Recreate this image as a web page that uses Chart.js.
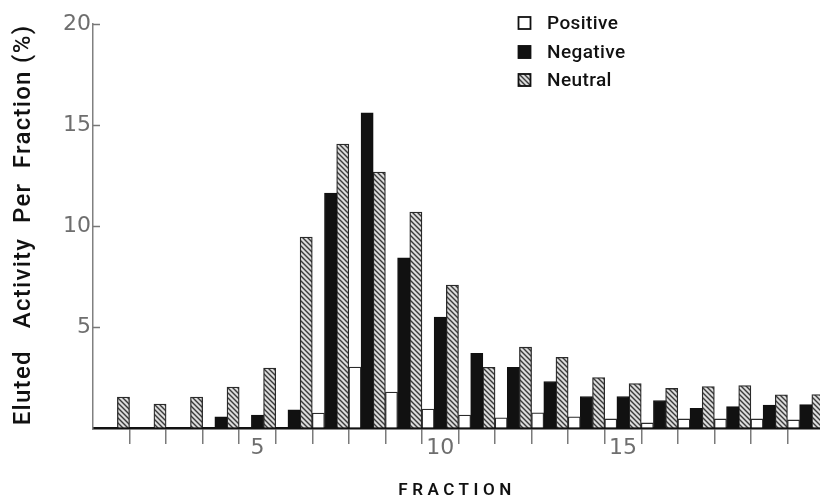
<!DOCTYPE html>
<html>
<head>
<meta charset="utf-8">
<script src="https://cdn.jsdelivr.net/npm/chart.js@4.4.1/dist/chart.umd.min.js"></script>
<style>
  html, body { margin: 0; padding: 0; background: #ffffff; overflow: hidden; }
  #wrap { width: 824px; height: 500px; }
  canvas { display: block; }
</style>
</head>
<body>
<div id="wrap"><canvas id="c" width="824" height="500"></canvas></div>
<script>
// ---- Data ----
const fractions = [1, 2, 3, 4, 5, 6, 7, 8, 9, 10, 11, 12, 13, 14, 15, 16, 17, 18, 19, 20];
const positiveValues = [0, 0, 0, 0, 0, 0, 0.74, 3.02, 1.78, 0.94, 0.64, 0.5, 0.75, 0.55, 0.45, 0.25, 0.45, 0.45, 0.45, 0.4];
const negativeValues = [0, 0, 0, 0.55, 0.64, 0.9, 11.63, 15.6, 8.42, 5.49, 3.7, 3.0, 2.3, 1.56, 1.56, 1.36, 0.97, 1.06, 1.14, 1.16];
const neutralValues  = [1.53, 1.19, 1.53, 2.03, 2.97, 9.45, 14.06, 12.67, 10.69, 7.08, 3.0, 4.0, 3.5, 2.5, 2.2, 1.96, 2.05, 2.1, 1.64, 1.66];
const seriesNames = ['Positive', 'Negative', 'Neutral'];
const labelledFractions = [5, 10, 15];
const yTickValues = [5, 10, 15, 20];
const xTitle = 'FRACTION';
const yTitle = 'Eluted   Activity  Per  Fraction (%)';

// ---- Hatch pattern ----
function makeHatch() {
  const s = 5;
  const pc = document.createElement('canvas');
  pc.width = s; pc.height = s;
  const p = pc.getContext('2d');
  p.fillStyle = '#dcdcdc';
  p.fillRect(0, 0, s, s);
  p.strokeStyle = '#3a3a3a';
  p.lineWidth = 1.4;
  p.beginPath();
  p.moveTo(0, 0); p.lineTo(s, s);
  p.moveTo(-1, s - 1); p.lineTo(1, s + 1);
  p.moveTo(s - 1, -1); p.lineTo(s + 1, 1);
  p.stroke();
  return p.createPattern(pc, 'repeat');
}
const hatch = makeHatch();

const FONT = "'DejaVu Sans', 'Liberation Sans', sans-serif";
const TFONT = "Roboto, 'DejaVu Sans', sans-serif";

const styles = [
  { backgroundColor: '#ffffff', borderColor: '#2a2a2a', borderWidth: 1.3 },
  { backgroundColor: '#111111', borderColor: '#111111', borderWidth: 1 },
  { backgroundColor: hatch, borderColor: '#2a2a2a', borderWidth: 1.3 }
];

// ---- Extra drawing: inward y ticks, axis titles, legend ----
const extras = {
  id: 'extras',
  afterDraw(chart) {
    const ctx = chart.ctx;
    const area = chart.chartArea;
    const y = chart.scales.y;
    ctx.save();
    // inward y tick marks
    ctx.strokeStyle = '#777';
    ctx.lineWidth = 1.5;
    yTickValues.forEach(v => {
      const py = Math.round(y.getPixelForValue(v)) + 0.5;
      ctx.beginPath();
      ctx.moveTo(area.left, py);
      ctx.lineTo(area.left + 7, py);
      ctx.stroke();
    });

    // x title
    ctx.fillStyle = '#111';
    ctx.font = '600 17px ' + TFONT;
    ctx.textAlign = 'center';
    ctx.textBaseline = 'middle';
    if ('letterSpacing' in ctx) ctx.letterSpacing = '4.5px';
    ctx.fillText(xTitle, 457, 491);
    if ('letterSpacing' in ctx) ctx.letterSpacing = '0px';

    // y title
    ctx.save();
    ctx.translate(24, (area.top + area.bottom) / 2 - 1);
    ctx.rotate(-Math.PI / 2);
    ctx.font = '500 24px ' + TFONT;
    ctx.textAlign = 'center';
    ctx.textBaseline = 'middle';
    if ('letterSpacing' in ctx) ctx.letterSpacing = '1.3px';
    ctx.fillText(yTitle, 0, 0);
    if ('letterSpacing' in ctx) ctx.letterSpacing = '0px';
    ctx.restore();

    // legend
    const lx = 518, ys = [23, 52, 80];
    chart.data.datasets.forEach((ds, i) => {
      const by = ys[i] - 6.5;
      ctx.fillStyle = ds.backgroundColor;
      ctx.fillRect(lx, by, 13, 13);
      ctx.strokeStyle = '#111';
      ctx.lineWidth = 1.8;
      ctx.strokeRect(lx + 0.5, by + 0.5, 12, 12);
      ctx.fillStyle = '#111';
      ctx.font = '500 19px ' + TFONT;
      ctx.textAlign = 'left';
      ctx.textBaseline = 'middle';
      if ('letterSpacing' in ctx) ctx.letterSpacing = '0.4px';
      ctx.fillText(ds.label, 547, ys[i] + 1);
      if ('letterSpacing' in ctx) ctx.letterSpacing = '0px';
    });
    ctx.restore();
  }
};

new Chart(document.getElementById('c'), {
  type: 'bar',
  data: {
    labels: fractions,
    datasets: [
      Object.assign({ label: seriesNames[0], data: positiveValues }, styles[0]),
      Object.assign({ label: seriesNames[1], data: negativeValues }, styles[1]),
      Object.assign({ label: seriesNames[2], data: neutralValues }, styles[2])
    ]
  },
  options: {
    responsive: false,
    animation: false,
    layout: { padding: { top: 24, left: 0, right: 0, bottom: 0 } },
    datasets: { bar: { barPercentage: 1.0, categoryPercentage: 1.0 } },
    plugins: { legend: { display: false }, tooltip: { enabled: false }, title: { display: false } },
    scales: {
      x: {
        type: 'category',
        offset: true,
        afterFit: s => { s.height = 72; },
        grid: {
          offset: true,
          drawOnChartArea: false,
          drawTicks: true,
          tickLength: 16,
          lineWidth: 1.5,
          color: c => (c.index === 0 ? 'rgba(0,0,0,0)' : '#7a7a7a')
        },
        border: { display: true, color: '#111', width: 2.5 },
        ticks: {
          autoSkip: false,
          maxRotation: 0,
          padding: -9,
          color: '#6e6e6e',
          font: { family: FONT, size: 22 },
          callback: function (value) {
            const f = this.getLabelForValue(value);
            return labelledFractions.includes(Number(f)) ? String(f) : '';
          }
        }
      },
      y: {
        min: 0,
        max: 20,
        afterFit: s => { s.width = 93; },
        grid: { drawOnChartArea: false, drawTicks: false },
        border: { display: true, color: '#808080', width: 1.5 },
        ticks: {
          stepSize: 5,
          padding: 2,
          color: '#6e6e6e',
          font: { family: FONT, size: 22 },
          callback: v => (yTickValues.includes(v) ? String(v) : '')
        }
      }
    }
  },
  plugins: [extras]
});
</script>
</body>
</html>
